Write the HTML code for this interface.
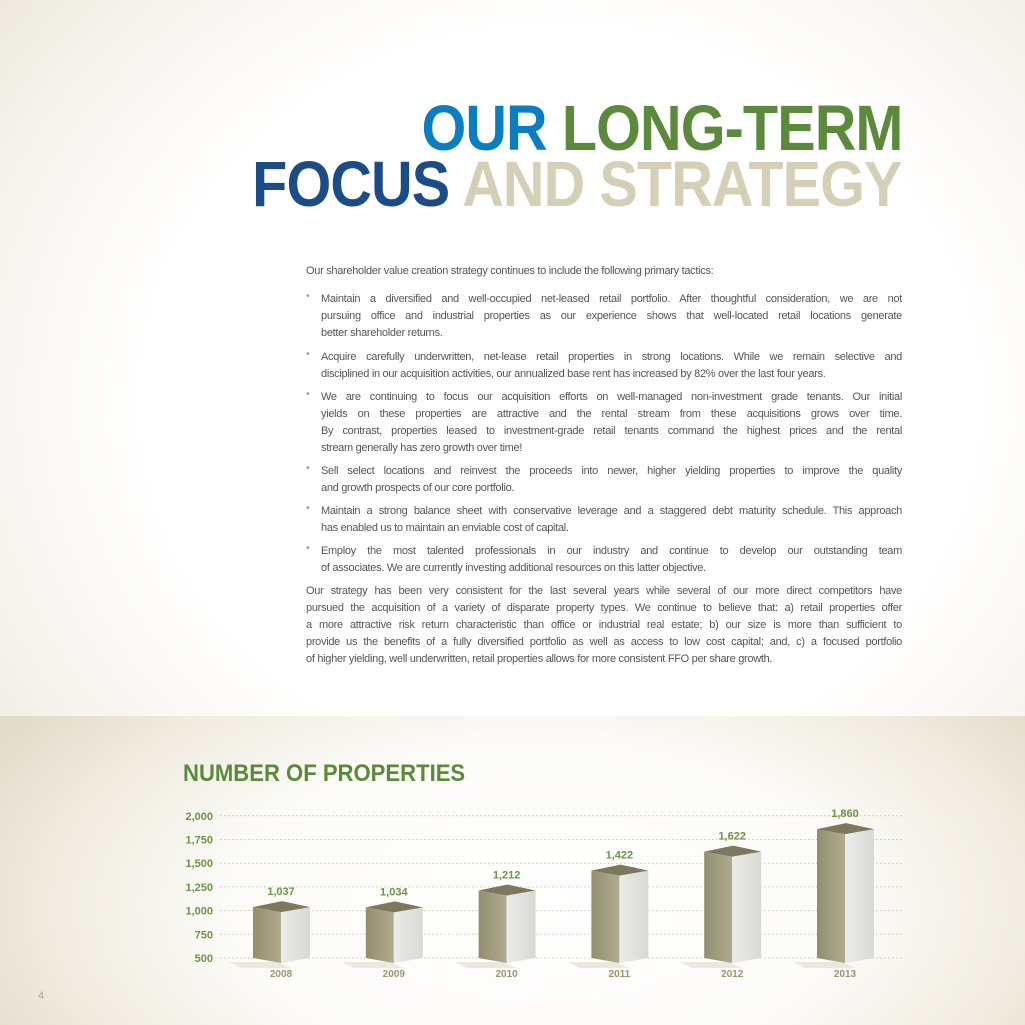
<!DOCTYPE html>
<html><head><meta charset="utf-8"><style>
html,body{margin:0;padding:0}
body{width:1025px;height:1025px;position:relative;overflow:hidden;font-family:"Liberation Sans",sans-serif;
background:radial-gradient(ellipse 760px 680px at 560px 400px,#ffffff 0%,#ffffff 55%,#f6f4ee 78%,#e9e5d8 100%);}
.band{position:absolute;left:0;top:716px;width:1025px;height:309px;background:radial-gradient(ellipse 620px 330px at 540px 190px,#ffffff 0%,#fcfbf8 50%,#efebdf 80%,#e2dccb 100%);}
.title{position:absolute;right:123px;font-weight:bold;font-size:64px;letter-spacing:-1px;line-height:1;white-space:nowrap;transform:scaleX(0.9);transform-origin:right}
.txt{position:absolute;left:306px;width:596px;font-size:11px;color:#555;letter-spacing:-0.3px}
.l{height:17px;line-height:17px;text-align:justify;text-align-last:justify;white-space:nowrap;overflow:hidden}
.l.e{text-align-last:left}
.b{position:relative;padding-left:15px}
.b:before{content:"•";position:absolute;left:0;top:0;color:#8aa86a;font-size:10px}
</style></head><body>
<div class="band"></div>
<div class="title" style="top:96px"><span style="color:#0b7dc1">OUR</span> <span style="color:#5b8a3c">LONG-TERM</span></div>
<div class="title" style="top:152px"><span style="color:#1b4c86">FOCUS</span> <span style="color:#d5cfb6">AND STRATEGY</span></div>

<div class="txt" style="top:263px">
<div class="l e">Our shareholder value creation strategy continues to include the following primary tactics:</div>
<div style="height:11px"></div>
<div class="b"><div class="l">Maintain a diversified and well-occupied net-leased retail portfolio. After thoughtful consideration, we are not</div><div class="l">pursuing office and industrial properties as our experience shows that well-located retail locations generate</div><div class="l e">better shareholder returns.</div></div>
<div style="height:7px"></div>
<div class="b"><div class="l">Acquire carefully underwritten, net-lease retail properties in strong locations. While we remain selective and</div><div class="l e">disciplined in our acquisition activities, our annualized base rent has increased by 82% over the last four years.</div></div>
<div style="height:6px"></div>
<div class="b"><div class="l">We are continuing to focus our acquisition efforts on well-managed non-investment grade tenants. Our initial</div><div class="l">yields on these properties are attractive and the rental stream from these acquisitions grows over time.</div><div class="l">By contrast, properties leased to investment-grade retail tenants command the highest prices and the rental</div><div class="l e">stream generally has zero growth over time!</div></div>
<div style="height:6px"></div>
<div class="b"><div class="l">Sell select locations and reinvest the proceeds into newer, higher yielding properties to improve the quality</div><div class="l e">and growth prospects of our core portfolio.</div></div>
<div style="height:6px"></div>
<div class="b"><div class="l">Maintain a strong balance sheet with conservative leverage and a staggered debt maturity schedule. This approach</div><div class="l e">has enabled us to maintain an enviable cost of capital.</div></div>
<div style="height:6px"></div>
<div class="b"><div class="l">Employ the most talented professionals in our industry and continue to develop our outstanding team</div><div class="l e">of associates. We are currently investing additional resources on this latter objective.</div></div>
<div style="height:6px"></div>
<div class="l">Our strategy has been very consistent for the last several years while several of our more direct competitors have</div>
<div class="l">pursued the acquisition of a variety of disparate property types. We continue to believe that: a) retail properties offer</div>
<div class="l">a more attractive risk return characteristic than office or industrial real estate; b) our size is more than sufficient to</div>
<div class="l">provide us the benefits of a fully diversified portfolio as well as access to low cost capital; and, c) a focused portfolio</div>
<div class="l e">of higher yielding, well underwritten, retail properties allows for more consistent FFO per share growth.</div>
</div>

<div style="position:absolute;left:183px;top:760px;font-size:24px;font-weight:bold;color:#5b8a3c;transform:scaleX(0.92);transform-origin:left">NUMBER OF PROPERTIES</div>
<div style="position:absolute;left:38px;top:990px;font-size:11px;color:#9db07f">4</div>

<svg id="chart" width="1025" height="1025" style="position:absolute;left:0;top:0">
<defs>
<linearGradient id="lf" x1="0" x2="1"><stop offset="0" stop-color="#948e70"/><stop offset="1" stop-color="#b0aa90"/></linearGradient>
<linearGradient id="rf" x1="0" x2="1"><stop offset="0" stop-color="#ebebe8"/><stop offset="1" stop-color="#d8d9d4"/></linearGradient>
</defs>
</svg>
<script>
const years=["2008","2009","2010","2011","2012","2013"];
const counts=[1037,1034,1212,1422,1622,1860];
const ticks=[500,750,1000,1250,1500,1750,2000];
const tickLabels=["500","750","1,000","1,250","1,500","1,750","2,000"];
const valueLabels=["1,037","1,034","1,212","1,422","1,622","1,860"];
const svg=document.getElementById('chart');
const NS='http://www.w3.org/2000/svg';
function y(v){return 958-(v-500)*0.0948;}
function x(i){return 281+i*112.8;}
function mk(t,a){const e=document.createElementNS(NS,t);for(const k in a)e.setAttribute(k,a[k]);svg.appendChild(e);return e;}
ticks.forEach((t,i)=>{
 const l=mk('line',{x1:220,x2:902,y1:y(t),y2:y(t),stroke:'#c9c6b0','stroke-width':1,'stroke-dasharray':'1.5,2.5'});
 
 
 const tx=mk('text',{x:213,y:y(t)+4,'text-anchor':'end','font-size':11,'font-weight':'bold',fill:'#6b9444','font-family':'Liberation Sans, sans-serif'});
 tx.textContent=tickLabels[i];
 
 
});
counts.forEach((v,i)=>{
 const cx=x(i), top=y(v), bot=y(500);
 const g=document.createElementNS(NS,'g');svg.appendChild(g);
 
 
 const add=(t,a)=>{const e=document.createElementNS(NS,t);for(const k in a)e.setAttribute(k,a[k]);g.appendChild(e);return e;};
 add('polygon',{points:`${cx-52},${bot+4} ${cx-4},${bot+4} ${cx+10},${bot+10} ${cx-40},${bot+10}`,fill:'#e4dfce',opacity:0.7});
 add('polygon',{points:`${cx-28},${top} ${cx},${top+5} ${cx},${bot+5} ${cx-28},${bot}`,fill:'url(#lf)'});
 add('polygon',{points:`${cx},${top+5} ${cx+29},${top} ${cx+29},${bot} ${cx},${bot+5}`,fill:'url(#rf)'});
 add('polygon',{points:`${cx-28},${top} ${cx+1},${top-6} ${cx+29},${top} ${cx},${top+5}`,fill:'#7d775b'});
 const vl=mk('text',{x:cx,y:top-12,'text-anchor':'middle','font-size':11,'font-weight':'bold',fill:'#6b9444','font-family':'Liberation Sans, sans-serif'});
 vl.textContent=valueLabels[i];
 
 
 const xl=mk('text',{x:cx,y:977,'text-anchor':'middle','font-size':10,'font-weight':'bold',fill:'#9a9470','font-family':'Liberation Sans, sans-serif'});
 xl.textContent=years[i];
 
 
});
</script>
</body></html>
